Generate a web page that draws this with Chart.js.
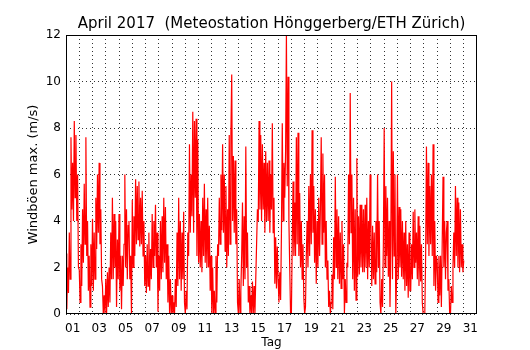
<!DOCTYPE html>
<html>
<head>
<meta charset="utf-8">
<script src="https://cdn.jsdelivr.net/npm/chart.js@4.4.0/dist/chart.umd.min.js"></script>
<style>
  html, body { margin: 0; padding: 0; background: #fff; }
</style>
</head>
<body>
<canvas id="chart" width="530" height="350"></canvas>
<script>
// Max wind gusts (m/s), 16 samples per day (every 90 min), 1 April 00:00 .. 1 May 00:00
const sampleStartDay = 1;
const samplesPerDay = 16;
const gusts = [
    2.6, 0.2, 2.0, 0.9,  3.5, 1.5, 7.6, 4.5,  6.5, 4.0, 8.3, 5.0,  7.7, 4.0, 6.0, 2.0,     // 01
    1.9, 0.5, 3.0, 1.2,  4.5, 2.2, 5.6, 3.0,  7.6, 2.5, 4.0, 1.0,  2.5, 0.3, 3.0, 1.2,     // 02
    4.1, 1.0, 3.5, 1.5,  5.0, 2.8, 6.0, 3.5,  6.5, 3.0, 4.5, 1.5,  1.2, 0.0, 0.8, 0.0,     // 03
    1.5, 0.0, 1.8, 0.3,  2.0, 0.5, 3.5, 1.5,  5.0, 1.5, 4.3, 2.0,  4.0, 0.3, 3.2, 1.5,     // 04
    4.3, 1.0, 2.5, 0.2,  2.5, 1.2, 3.0, 6.0,  2.0, 4.5, 1.5, 3.8,  4.0, 1.5, 2.5, 0.0,     // 05
    4.9, 2.0, 4.2, 2.5,  5.8, 3.0, 5.5, 3.2,  5.7, 2.9, 5.0, 3.0,  5.3, 2.5, 4.0, 1.2,     // 06
    2.5, 0.9, 3.0, 1.2,  3.5, 1.0, 2.8, 1.5,  4.3, 2.0, 4.0, 2.5,  4.7, 2.0, 3.5, 0.1,     // 07
    2.5, 1.0, 4.0, 1.5,  4.2, 1.8, 5.0, 2.2,  4.6, 1.5, 3.0, 0.5,  2.5, 0.0, 1.5, 0.0,     // 08
    0.8, 0.0, 0.5, 0.0,  1.5, 0.3, 3.5, 1.2,  5.0, 1.5, 4.0, 1.0,  3.5, 1.5, 4.4, 0.5,     // 09
    0.0, 1.0, 0.2, 3.5,  2.5, 7.3, 3.5, 6.0,  4.2, 8.7, 3.5, 8.3,  5.0, 8.4, 2.5, 7.5,     // 10
    2.2, 4.3, 2.0, 4.0,  1.8, 5.0, 2.5, 5.6,  2.2, 4.5, 2.0, 5.0,  2.0, 3.8, 1.0, 2.5,     // 11
    0.0, 2.0, 0.0, 1.0,  0.0, 2.5, 0.5, 3.0,  2.5, 5.0, 3.0, 6.0,  3.6, 7.3, 3.5, 6.0,     // 12
    2.7, 5.5, 2.0, 4.5,  2.5, 7.7, 3.0, 7.8,  10.3, 4.0, 6.8, 3.5, 6.6, 3.0, 4.5, 0.5,     // 13
    0.0, 1.5, 0.0, 1.0,  2.5, 4.8, 1.2, 4.2,  1.5, 7.2, 2.0, 3.5,  0.5, 1.2, 0.0, 0.8,     // 14
    0.0, 1.4, 0.0, 1.2,  0.0, 1.5, 3.0, 4.5,  4.0, 8.3, 4.5, 7.7,  4.0, 7.3, 4.5, 6.5,     // 15
    3.5, 7.0, 4.0, 6.5,  4.0, 6.6, 3.5, 6.0,  4.5, 8.2, 3.5, 5.0,  1.3, 3.3, 1.1, 2.9,     // 16
    1.5, 0.5, 1.8, 0.6,  3.5, 8.2, 4.0, 6.5,  5.0, 7.0, 12.0, 5.5, 10.2, 4.0, 2.0, 0.0,    // 17
    0.0, 3.0, 5.7, 2.5,  4.8, 2.5, 7.6, 3.0,  7.8, 2.5, 5.2, 2.0,  4.0, 1.5, 3.0, 0.7,     // 18
    0.0, 0.3, 2.5, 4.0,  2.0, 5.5, 2.5, 6.0,  3.0, 7.9, 3.5, 5.5,  2.2, 4.5, 1.3, 4.0,     // 19
    2.0, 5.0, 2.5, 4.5,  7.6, 3.0, 6.9, 3.5,  6.0, 2.0, 4.0, 1.5,  2.3, 0.3, 1.0, 0.0,     // 20
    0.5, 1.7, 0.2, 3.3,  1.5, 5.9, 2.0, 4.5,  1.5, 4.2, 1.3, 3.5,  1.1, 4.0, 1.5, 3.0,     // 21
    0.0, 1.5, 0.5, 2.2,  2.0, 6.0, 3.0, 9.5,  3.5, 6.0, 1.5, 5.0,  1.0, 4.5, 0.6, 6.7,     // 22
    1.6, 4.2, 1.7, 4.7,  2.0, 4.7, 1.8, 4.5,  1.8, 4.7, 2.0, 5.0,  1.5, 4.0, 2.0, 6.0,     // 23
    3.5, 1.2, 3.8, 1.5,  3.5, 1.3, 4.0, 1.8,  6.0, 2.0, 4.0, 0.5,  0.0, 1.5, 0.3, 3.0,     // 24
    8.0, 2.0, 5.5, 2.5,  5.0, 1.6, 4.0, 0.3,  3.0, 10.0, 1.5, 7.0, 2.5, 6.0, 0.0, 1.5,     // 25
    6.0, 1.5, 4.6, 2.0,  4.5, 1.6, 4.0, 1.5,  3.5, 1.0, 4.0, 1.2,  3.0, 0.7, 3.5, 1.0,     // 26
    1.0, 3.0, 1.5, 4.4,  2.0, 4.5, 2.2, 3.5,  1.5, 4.2, 1.2, 3.8,  1.4, 3.0, 0.5, 0.0,     // 27
    0.0, 0.0, 2.5, 7.2,  3.0, 6.5, 2.5, 5.5,  3.0, 6.0, 2.5, 7.3,  1.2, 4.0, 1.0, 2.5,     // 28
    2.2, 0.5, 2.5, 0.8,  2.5, 0.3, 3.0, 5.9,  2.0, 4.0, 1.5, 3.5,  4.0, 1.0, 1.5, 0.0,     // 29
    0.0, 1.2, 0.5, 2.0,  3.5, 2.0, 5.5, 2.5,  5.0, 2.0, 4.8, 1.8,  4.5, 2.0, 3.0, 1.8,     // 30
    2.3
];

// tick labels sit at noon of every second day
const dayLabels = ['01', '03', '05', '07', '09', '11', '13', '15',
                   '17', '19', '21', '23', '25', '27', '29', '31'];
const yTicks = [0, 2, 4, 6, 8, 10, 12];

const points = gusts.map((v, i) => ({ x: sampleStartDay + i / samplesPerDay, y: v }));

const labelAt = {};
dayLabels.forEach(l => { labelAt[parseInt(l, 10) + 0.5] = l; });

// grid at every midnight, labels at noon of odd days
const xTickValues = [];
for (let d = 1.5; d <= 31.5; d += 0.5) xTickValues.push(d);

const gridColor = 'rgba(0, 0, 0, 0.8)';
const gridDash = [1, 3];
const font = { family: 'DejaVu Sans', size: 12 };

const framePlugin = {
    id: 'frame',
    afterDraw(chart) {
        const { ctx, chartArea: a } = chart;
        ctx.save();
        ctx.strokeStyle = '#000';
        ctx.lineWidth = 1;
        ctx.strokeRect(Math.round(a.left) + 0.5, Math.round(a.top) + 0.5,
                       Math.round(a.right - a.left) - 1, Math.round(a.bottom - a.top) - 1);
        ctx.restore();
    }
};

new Chart(document.getElementById('chart'), {
    type: 'line',
    data: {
        datasets: [{
            data: points,
            borderColor: '#ff0000',
            borderWidth: 1.2,
            pointRadius: 0,
            tension: 0,
            fill: false
        }]
    },
    options: {
        responsive: false,
        animation: false,
        events: [],
        layout: { padding: { left: 0, right: 53, top: 0, bottom: 0 } },
        plugins: {
            legend: { display: false },
            tooltip: { enabled: false },
            title: {
                display: true,
                fullSize: false,
                text: 'April 2017  (Meteostation Hönggerberg/ETH Zürich)',
                color: '#000',
                font: { family: 'DejaVu Sans', size: 15, weight: 'normal' },
                padding: { top: 15, bottom: 2 }
            }
        },
        scales: {
            x: {
                type: 'linear',
                min: 1,
                max: 32,
                afterBuildTicks: axis => { axis.ticks = xTickValues.map(v => ({ value: v })); },
                afterFit: axis => { axis.height = 36; },
                border: { display: false, dash: gridDash },
                grid: {
                    drawTicks: false,
                    lineWidth: 1,
                    color: c => Number.isInteger(c.tick.value) ? gridColor : 'rgba(0,0,0,0)'
                },
                ticks: {
                    autoSkip: false,
                    maxRotation: 0,
                    minRotation: 0,
                    padding: 8,
                    color: '#000',
                    font: font,
                    callback: v => labelAt[v] || ''
                },
                title: {
                    display: true,
                    text: 'Tag',
                    color: '#000',
                    font: { family: 'DejaVu Sans', size: 12 },
                    padding: { top: 0, bottom: 0 }
                }
            },
            y: {
                min: 0,
                max: 12,
                afterBuildTicks: axis => { axis.ticks = yTicks.map(v => ({ value: v })); },
                afterFit: axis => { axis.width = 66; },
                border: { display: false, dash: gridDash },
                grid: {
                    drawTicks: false,
                    lineWidth: 1,
                    color: gridColor
                },
                ticks: {
                    padding: 5,
                    color: '#000',
                    font: font
                },
                title: {
                    display: true,
                    text: 'Windböen max. (m/s)',
                    color: '#000',
                    font: { family: 'DejaVu Sans', size: 13 },
                    padding: { top: 26, bottom: 0 }
                }
            }
        }
    },
    plugins: [framePlugin]
});
</script>
</body>
</html>
